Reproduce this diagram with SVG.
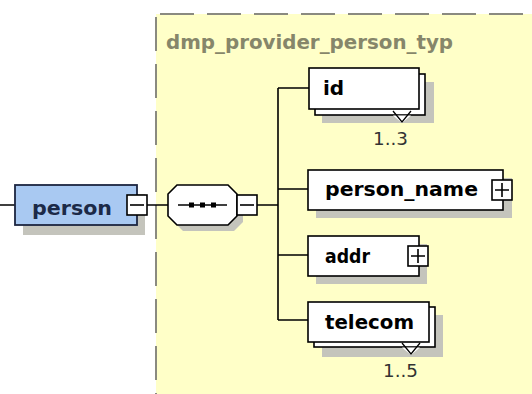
<svg xmlns="http://www.w3.org/2000/svg" width="532" height="394" viewBox="0 0 532 394">
<style>
.box{fill:#fff;stroke:#000;stroke-width:1.6}
.shadow{fill:#c4c4bc;stroke:none}
.lbl{font-family:"DejaVu Sans",sans-serif;font-weight:bold;font-size:20px;fill:#000}
.card{font-family:"DejaVu Sans",sans-serif;font-size:17px;fill:#333}
.conn{fill:none;stroke:#000;stroke-width:1.6}
.border{fill:none;stroke:#8a8a80;stroke-width:2;stroke-dasharray:34 13}
</style>
<rect width="532" height="394" fill="#ffffff"/>
<g id="type-area">
<rect x="156" y="14" width="376" height="380" fill="#ffffc8"/>
<line class="border" x1="160" y1="14" x2="532" y2="14"/>
<line class="border" x1="156" y1="17" x2="156" y2="394"/>
<text x="166" y="49" font-family="DejaVu Sans, sans-serif" font-weight="bold" font-size="20" fill="#86866a" textLength="287" lengthAdjust="spacingAndGlyphs">dmp_provider_person_typ</text>
</g>
<g id="connectors">
<path class="conn" d="M0,205 H15 M147,205 H168 M257,205 H278 M278,88 V320 M278,88 H309 M278,189 H308 M278,255 H308 M278,320 H308"/>
</g>
<g id="person">
<rect class="shadow" x="23" y="194" width="122" height="41"/>
<rect x="15" y="185" width="122" height="40" fill="#a9c9f2" stroke="#1c2540" stroke-width="1.8"/>
<text x="32" y="215" font-family="DejaVu Sans, sans-serif" font-weight="bold" font-size="20" fill="#1c2a48" textLength="80" lengthAdjust="spacingAndGlyphs">person</text>
<rect class="box" x="127" y="195" width="20" height="20"/>
<line x1="130" y1="205" x2="144" y2="205" stroke="#000" stroke-width="1.6"/>
</g>
<g id="sequence">
<polygon class="shadow" points="183,191 234,191 243,200 243,222 234,231 183,231 174,222 174,200"/>
<polygon class="box" points="177,185 228,185 237,194 237,216 228,225 177,225 168,216 168,194"/>
<line x1="178" y1="205" x2="227" y2="205" stroke="#000" stroke-width="1.6"/>
<rect x="189" y="202.5" width="5" height="5" fill="#000"/>
<rect x="200" y="202.5" width="5" height="5" fill="#000"/>
<rect x="211" y="202.5" width="5" height="5" fill="#000"/>
<rect class="box" x="237" y="195" width="20" height="20"/>
<line x1="240" y1="205" x2="254" y2="205" stroke="#000" stroke-width="1.6"/>
</g>
<g id="id">
<rect class="shadow" x="322" y="82" width="112" height="41"/>
<rect class="box" x="315" y="74" width="110" height="41"/>
<rect class="box" x="309" y="68" width="110" height="41"/>
<polygon points="393,115.5 411,115.5 402,123" fill="#fff"/>
<path d="M393,111 L402,122 L411,111" fill="none" stroke="#000" stroke-width="1.3"/>
<text class="lbl" x="323" y="95">id</text>
<text class="card" x="373" y="145" textLength="35" lengthAdjust="spacingAndGlyphs">1..3</text>
</g>
<g id="person_name">
<rect class="shadow" x="316" y="178" width="196" height="40"/>
<rect class="box" x="308" y="170" width="195" height="40"/>
<text class="lbl" x="325" y="196" textLength="153" lengthAdjust="spacingAndGlyphs">person_name</text>
<rect class="box" x="492" y="180" width="20" height="20"/>
<path d="M495,190 H509 M502,183 V197" stroke="#000" stroke-width="1.6"/>
</g>
<g id="addr">
<rect class="shadow" x="316" y="244" width="111" height="40"/>
<rect class="box" x="308" y="236" width="111" height="40"/>
<text class="lbl" x="325" y="263" textLength="45" lengthAdjust="spacingAndGlyphs">addr</text>
<rect class="box" x="408" y="246" width="20" height="20"/>
<path d="M411,256 H425 M418,249 V263" stroke="#000" stroke-width="1.6"/>
</g>
<g id="telecom">
<rect class="shadow" x="322" y="315" width="121" height="42"/>
<rect class="box" x="314" y="307" width="121" height="40"/>
<rect class="box" x="308" y="302" width="121" height="40"/>
<polygon points="402,347.5 420,347.5 411,355" fill="#fff"/>
<path d="M402,343 L411,354 L420,343" fill="none" stroke="#000" stroke-width="1.3"/>
<text class="lbl" x="325" y="329" textLength="89" lengthAdjust="spacingAndGlyphs">telecom</text>
<text class="card" x="383" y="377" textLength="35" lengthAdjust="spacingAndGlyphs">1..5</text>
</g>
</svg>
